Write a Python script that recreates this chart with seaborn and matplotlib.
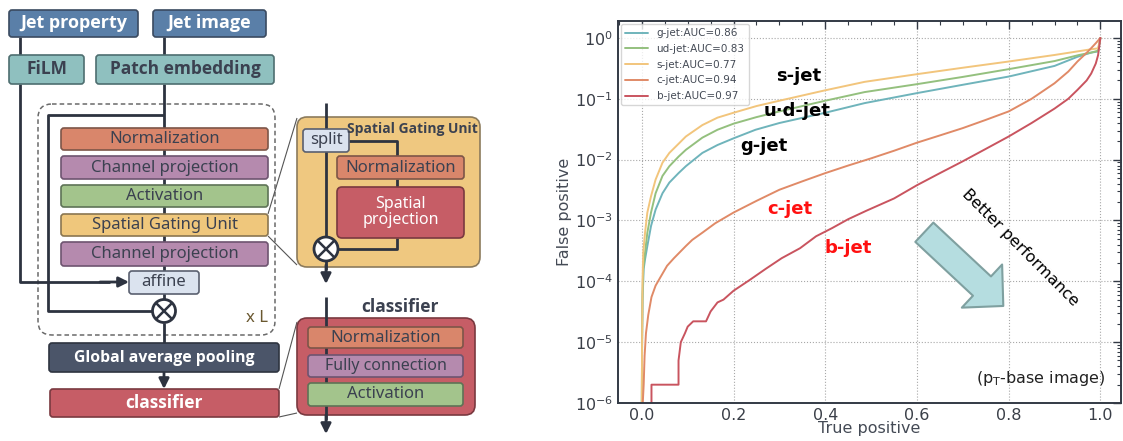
import numpy as np
import pandas as pd
import seaborn as sns
import matplotlib
matplotlib.use("Agg")
from matplotlib import pyplot as plt
from matplotlib import font_manager as fm
from matplotlib.patches import FancyBboxPatch, Circle, FancyArrowPatch
from matplotlib.ticker import MultipleLocator, LogLocator, NullFormatter

# ---- ROC data (true positive, false positive) ----
series_names = ["g-jet:AUC=0.86", "ud-jet:AUC=0.83", "s-jet:AUC=0.77",
                "c-jet:AUC=0.94", "b-jet:AUC=0.97"]
series_colors = ["#6fb4bb", "#94c07e", "#f2c57c", "#e08a67", "#c9545f"]

g_tp = [0.0, 0.0005, 0.0015, 0.004, 0.007, 0.012, 0.02, 0.03, 0.045, 0.06, 0.08,
        0.096, 0.132, 0.165, 0.2, 0.248, 0.3, 0.4, 0.486, 0.6, 0.7, 0.8, 0.9, 0.95,
        0.98, 0.995, 1.0]
g_fp = [1e-6, 1e-5, 5e-5, 1.6e-4, 2.3e-4, 3.8e-4, 8.1e-4, 1.51e-3, 2.8e-3, 4.2e-3,
        6e-3, 7.8e-3, 1.29e-2, 1.74e-2, 2.24e-2, 3.1e-2, 4e-2, 5.9e-2, 8.5e-2, 0.124,
        0.17, 0.232, 0.347, 0.49, 0.575, 0.6, 1.0]

ud_tp = [0.0, 0.0005, 0.0015, 0.003, 0.007, 0.012, 0.02, 0.03, 0.045, 0.06, 0.08,
         0.096, 0.132, 0.165, 0.2, 0.25, 0.3, 0.4, 0.486, 0.6, 0.7, 0.8, 0.9, 0.954,
         0.98, 0.995, 1.0]
ud_fp = [1e-6, 1e-5, 6.3e-5, 1.6e-4, 2.95e-4, 6.3e-4, 1.35e-3, 2.8e-3, 5.4e-3,
         7.8e-3, 1.12e-2, 1.45e-2, 2.3e-2, 3.1e-2, 3.9e-2, 5e-2, 6.2e-2, 9.3e-2,
         0.129, 0.174, 0.229, 0.307, 0.417, 0.526, 0.575, 0.617, 1.0]

s_tp = [0.0, 0.0005, 0.0015, 0.003, 0.007, 0.012, 0.02, 0.03, 0.045, 0.06, 0.08,
        0.096, 0.132, 0.165, 0.2, 0.25, 0.3, 0.4, 0.486, 0.6, 0.7, 0.8, 0.9, 0.976,
        0.995, 1.0]
s_fp = [1e-6, 1e-5, 1e-4, 2.95e-4, 6.3e-4, 1.35e-3, 2.5e-3, 4.7e-3, 8.9e-3, 1.29e-2,
        1.82e-2, 2.4e-2, 3.7e-2, 4.9e-2, 5.9e-2, 7.6e-2, 9.3e-2, 0.138, 0.19, 0.254,
        0.324, 0.41, 0.525, 0.645, 0.676, 1.0]

c_tp = [0.002, 0.004, 0.006, 0.009, 0.014, 0.021, 0.03, 0.04, 0.055, 0.07, 0.096,
        0.11, 0.132, 0.16, 0.2, 0.25, 0.3, 0.35, 0.4, 0.45, 0.5, 0.55, 0.6, 0.65,
        0.7, 0.75, 0.8, 0.85, 0.9, 0.93, 0.95, 0.97, 0.98, 0.99, 1.0]
c_fp = [1e-6, 2e-6, 6e-6, 1.4e-5, 2.8e-5, 5.5e-5, 8.5e-5, 1.15e-4, 1.8e-4, 2.4e-4,
        3.8e-4, 4.8e-4, 6.3e-4, 9e-4, 1.35e-3, 2.1e-3, 3.2e-3, 4.4e-3, 6e-3, 8e-3,
        1.05e-2, 1.4e-2, 1.9e-2, 2.5e-2, 3.3e-2, 4.5e-2, 6.2e-2, 0.1, 0.18, 0.28,
        0.41, 0.57, 0.68, 0.82, 1.0]

b_tp = [0.021, 0.021, 0.08, 0.08, 0.085, 0.094, 0.1, 0.112, 0.14, 0.15, 0.165,
        0.178, 0.2, 0.235, 0.27, 0.305, 0.345, 0.38, 0.415, 0.45, 0.49, 0.55, 0.6,
        0.65, 0.7, 0.75, 0.8, 0.85, 0.9, 0.93, 0.95, 0.97, 0.98, 0.99, 0.995, 1.0]
b_fp = [1e-6, 2e-6, 2e-6, 5e-6, 1e-5, 1.4e-5, 1.8e-5, 2.2e-5, 2.2e-5, 3.2e-5,
        4.5e-5, 5e-5, 7e-5, 1.05e-4, 1.6e-4, 2.4e-4, 3.5e-4, 5.5e-4, 7.5e-4,
        1.05e-3, 1.45e-3, 2.3e-3, 3.8e-3, 6e-3, 9.4e-3, 1.5e-2, 2.4e-2, 4e-2,
        6.9e-2, 0.1, 0.14, 0.2, 0.26, 0.38, 0.52, 1.0]

# ---- diagram colours ----
JET, JET_E = "#5a7fa8", "#3a4a60"
TEAL, TEAL_E = "#8fc0bf", "#4e6e70"
SALMON, SALMON_E = "#d9866b", "#7d5548"
MAUVE, MAUVE_E = "#b58aae", "#6e5470"
GREEN, GREEN_E = "#a3c48c", "#5e7356"
YELLOW, YELLOW_E = "#efc77c", "#8a7650"
LIGHT, LIGHT_E = "#dbe3ef", "#5a6070"
DARK, DARK_E = "#4b5569", "#2e3440"
RED, RED_E = "#c65d66", "#7a3940"
TXT = "#3b4150"
LINE = "#2d3340"

sns.set_style("white")
plt.rcParams["font.family"] = ["DejaVu Sans"]

# pick a sans family that really has a bold face installed
BOLD_FAMILY = "DejaVu Sans"
for cand in ["Noto Sans", "Open Sans", "Lato", "Roboto", "Liberation Sans"]:
    weights = [fm.weight_dict.get(f.weight, f.weight) if isinstance(f.weight, str) else f.weight
               for f in fm.fontManager.ttflist if f.name == cand]
    if any(w >= 600 for w in weights):
        BOLD_FAMILY = cand
        break

fig = plt.figure(figsize=(11.23, 4.41), dpi=100)

# ======================= left: architecture diagram =======================
ax0 = fig.add_axes([0, 0, 500 / 1123, 1])
ax0.set_xlim(0, 500)
ax0.set_ylim(441, 0)
ax0.axis("off")
DFONT = ["Noto Sans", "DejaVu Sans"]
BFONT = [BOLD_FAMILY, "DejaVu Sans"]


def box(x0, y0, x1, y1, label, fc, ec, tc=TXT, bold=False, fs=12, r=3, z=3, lw=1.2):
    p = FancyBboxPatch((x0, y0), x1 - x0, y1 - y0,
                       boxstyle=f"round,pad=0,rounding_size={r}",
                       fc=fc, ec=ec, lw=lw, zorder=z)
    ax0.add_patch(p)
    if label:
        ax0.text((x0 + x1) / 2, (y0 + y1) / 2, label, ha="center", va="center",
                 color=tc, fontsize=fs, fontweight="bold" if bold else "normal",
                 family=BFONT if bold else DFONT, zorder=z + 1, linespacing=1.0)


def line(xs, ys, z=2, lw=2.0, color=LINE):
    ax0.plot(xs, ys, color=color, lw=lw, zorder=z, solid_capstyle="butt")


def arrow(x0, y0, x1, y1, z=2):
    ax0.annotate("", xy=(x1, y1), xytext=(x0, y0), zorder=z,
                 arrowprops=dict(arrowstyle="-|>,head_length=0.6,head_width=0.3",
                                 color=LINE, lw=2.0, shrinkA=0, shrinkB=0))


def otimes(cx, cy, r=11.5, z=5):
    ax0.add_patch(Circle((cx, cy), r, fc="white", ec=LINE, lw=2.0, zorder=z))
    d = r * 0.707
    line([cx - d, cx + d], [cy - d, cy + d], z=z + 1, lw=1.8)
    line([cx - d, cx + d], [cy + d, cy - d], z=z + 1, lw=1.8)


# main column
box(9, 10, 138, 37, "Jet property", JET, JET_E, "white", True, 13)
box(153, 10, 266, 37, "Jet image", JET, JET_E, "white", True, 13)
box(9, 55, 84, 84, "FiLM", TEAL, TEAL_E, TXT, True, 12.5)
box(96, 55, 274, 84, "Patch embedding", TEAL, TEAL_E, TXT, True, 12.5)
line([20, 20], [37, 55])
line([164, 164], [37, 55])

ax0.add_patch(FancyBboxPatch((38, 104), 237, 231, boxstyle="round,pad=0,rounding_size=14",
                             fc="none", ec="#6a6a6a", lw=1.1, ls=(0, (3, 2)), zorder=1))
ax0.text(257, 318, "x L", ha="center", va="center", fontsize=12, color="#6a5830",
         family=DFONT)

line([164, 164], [84, 300])
line([164, 48, 48, 152], [115, 115, 311, 311])
box(61, 128, 268, 150, "Normalization", SALMON, SALMON_E, fs=12)
box(61, 156, 268, 179, "Channel projection", MAUVE, MAUVE_E, fs=12)
box(61, 185, 268, 207, "Activation", GREEN, GREEN_E, fs=12)
box(61, 214, 268, 236, "Spatial Gating Unit", YELLOW, YELLOW_E, fs=12)
box(61, 242, 268, 266, "Channel projection", MAUVE, MAUVE_E, fs=12)
box(129, 271, 199, 294, "affine", LIGHT, LIGHT_E, fs=12)
line([20, 20, 110], [84, 282, 282])
arrow(100, 282, 129, 282)
otimes(164, 311)
line([164, 164], [323, 343])
box(49, 343, 279, 372, "Global average pooling", DARK, DARK_E, "white", True, 11.3)
arrow(164, 372, 164, 389)
box(50, 389, 279, 417, "classifier", RED, RED_E, "white", True, 12.5)

# spatial gating unit detail
line([268, 297], [214, 118], lw=0.8, color="#555555", z=1)
line([268, 297], [236, 265], lw=0.8, color="#555555", z=1)
box(297, 117, 480, 267, None, "#efc880", "#8c7b5c", r=10, z=1, lw=1.2)
ax0.text(412, 129, "Spatial Gating Unit", ha="center", va="center", fontsize=10,
         fontweight="bold", color=TXT, family=BFONT, zorder=6)
line([326, 326], [103, 270], z=2)
arrow(326, 265, 326, 284)
box(303, 129, 349, 152, "split", LIGHT, LIGHT_E, fs=12, z=4)
line([349, 397, 397], [141, 141, 156], z=2)
box(337, 156, 464, 179, "Normalization", SALMON, SALMON_E, fs=12)
line([397, 397], [179, 187], z=2)
box(337, 187, 464, 238, "Spatial\nprojection", RED, RED_E, "white", False, 11.5, r=5)
line([397, 397, 338], [238, 249, 249], z=2)
otimes(326, 249, r=12)

# classifier detail
line([279, 297], [389, 322], lw=0.8, color="#555555", z=1)
line([279, 297], [417, 413], lw=0.8, color="#555555", z=1)
ax0.text(400, 307, "classifier", ha="center", va="center", fontsize=12.5,
         fontweight="bold", color=TXT, family=BFONT)
box(297, 318, 475, 415, None, RED, RED_E, r=10, z=1, lw=1.2)
line([326, 326], [297, 420], z=2)
arrow(326, 415, 326, 434)
box(308, 327, 463, 348, "Normalization", SALMON, SALMON_E, fs=12)
box(308, 355, 463, 377, "Fully connection", MAUVE, MAUVE_E, fs=11.5)
box(308, 383, 463, 406, "Activation", GREEN, GREEN_E, fs=12)

# ======================= right: ROC curves =======================
ax = fig.add_axes([618 / 1123, 38 / 441, 503 / 1123, 382 / 441])

rows = []
for name, xs, ys in zip(series_names,
                        [g_tp, ud_tp, s_tp, c_tp, b_tp],
                        [g_fp, ud_fp, s_fp, c_fp, b_fp]):
    rows += [(name, a, b) for a, b in zip(xs, ys)]
df = pd.DataFrame(rows, columns=["jet", "tpr", "fpr"])

sns.lineplot(data=df, x="tpr", y="fpr", hue="jet", hue_order=series_names,
             palette=dict(zip(series_names, series_colors)), sort=False,
             estimator=None, lw=1.4, ax=ax)
ax.set_yscale("log")
ax.set_xlim(-0.052, 1.045)
ax.set_ylim(1e-6, 1.9)

ax.xaxis.set_major_locator(MultipleLocator(0.2))
ax.xaxis.set_minor_locator(MultipleLocator(0.05))
ax.yaxis.set_major_locator(LogLocator(base=10, numticks=12))
ax.yaxis.set_minor_locator(LogLocator(base=10, subs=np.arange(2, 10), numticks=12))
ax.yaxis.set_minor_formatter(NullFormatter())
ax.tick_params(which="both", direction="in", top=True, right=True,
               colors="#333a45", labelcolor="#3a3f48", labelsize=11.5)
ax.tick_params(which="major", length=6, width=1.0)
ax.tick_params(which="minor", length=3, width=0.8)
for sp in ax.spines.values():
    sp.set_color("#333a45")
    sp.set_linewidth(1.4)
ax.grid(True, which="major", ls=":", color="#a8a8a8", lw=0.8)

ax.set_xlabel("True positive", fontsize=11.5, color="#444a55", labelpad=-1.5)
ax.set_ylabel("False positive", fontsize=11.5, color="#444a55", labelpad=2)

handles, labels = ax.get_legend_handles_labels()
leg = ax.legend(handles, labels, loc="upper left", fontsize=7.5, frameon=True,
                handlelength=2.2, borderaxespad=0.3, labelspacing=0.55,
                labelcolor="#444a55")
leg.get_frame().set_edgecolor("#cccccc")

ax.text(0.36, 0.856, "s-jet", transform=ax.transAxes, ha="center", va="center",
        fontsize=13, fontweight="bold", color="black")
ax.text(0.356, 0.764, "u\u00b7d-jet", transform=ax.transAxes, ha="center", va="center",
        fontsize=13, fontweight="bold", color="black")
ax.text(0.29, 0.673, "g-jet", transform=ax.transAxes, ha="center", va="center",
        fontsize=13, fontweight="bold", color="black")
ax.text(0.342, 0.508, "c-jet", transform=ax.transAxes, ha="center", va="center",
        fontsize=13, fontweight="bold", color="#ff1010")
ax.text(0.457, 0.406, "b-jet", transform=ax.transAxes, ha="center", va="center",
        fontsize=13, fontweight="bold", color="#ff1010")
ax.text(0.80, 0.406, "Better performance", transform=ax.transAxes, ha="center",
        va="center", rotation=-45, fontsize=11.5, color="black")
ax.text(0.841, 0.063, r"(p$_\mathrm{T}$-base image)", transform=ax.transAxes,
        ha="center", va="center", fontsize=11.5, color="#222222")

arr = FancyArrowPatch((0.609, 0.447), (0.766, 0.254), transform=ax.transAxes,
                      arrowstyle="simple,head_width=4.25,head_length=2.1,tail_width=1.9",
                      mutation_scale=10, fc="#b5dde0", ec="#7fa0a0", lw=1.5,
                      shrinkA=0, shrinkB=0, zorder=4)
ax.add_patch(arr)

fig.savefig("out.png", dpi=100)
